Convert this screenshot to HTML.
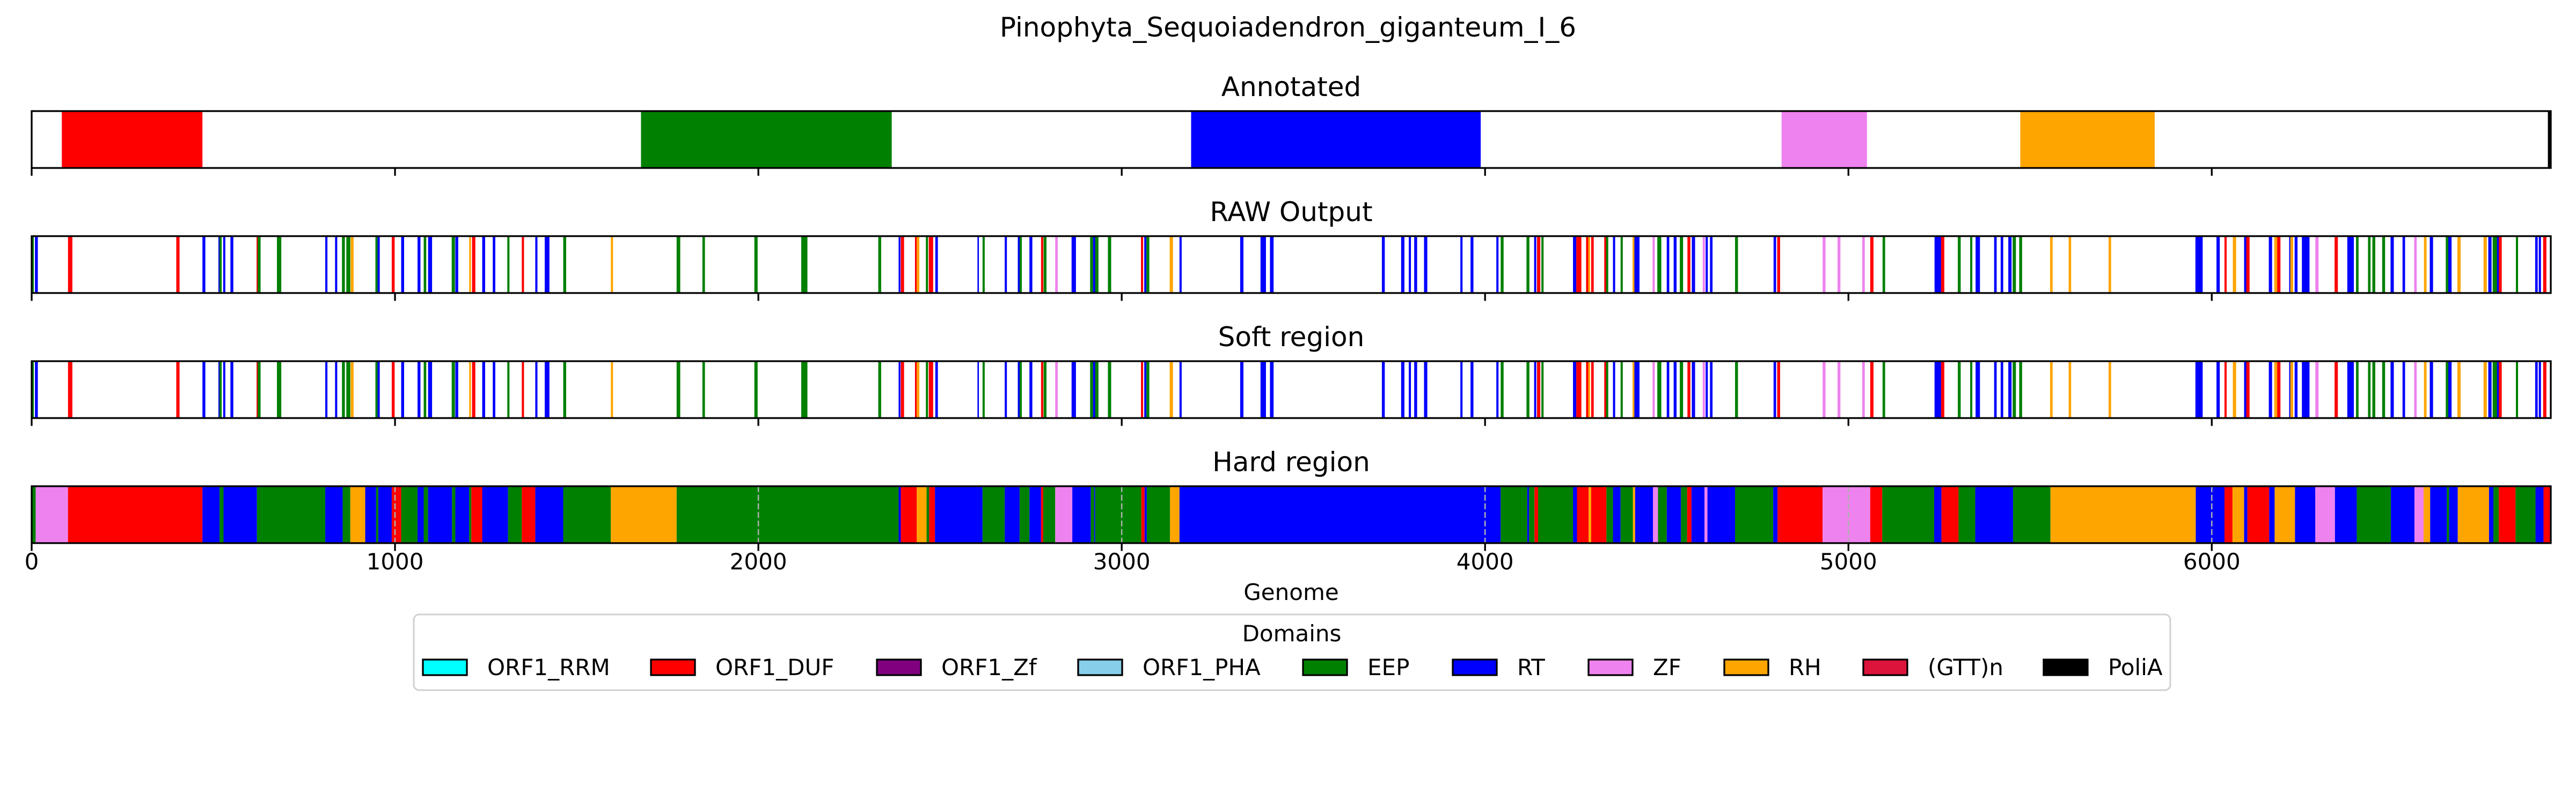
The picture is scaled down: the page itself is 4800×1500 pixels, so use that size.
<!DOCTYPE html>
<html><head><meta charset="utf-8">
<style>
html,body{margin:0;padding:0;background:#fff;}
svg{display:block;font-family:"DejaVu Sans","Liberation Sans",sans-serif;}
</style></head>
<body>
<svg id="chart" width="4800" height="1500" viewBox="0 0 4800 1500" xmlns="http://www.w3.org/2000/svg">
<rect width="4800" height="1500" fill="#fff"/>
<text x="2400" y="68" font-size="50" text-anchor="middle">Pinophyta_Sequoiadendron_giganteum_I_6</text>
<g id="panels"></g>
<text x="2406" y="1118" font-size="42" text-anchor="middle">Genome</text>
<g>
<rect x="771" y="1145" width="3273" height="141" rx="10" fill="#fff" stroke="#d0d0d0" stroke-width="3"/>
<text x="2407" y="1195" font-size="42" text-anchor="middle">Domains</text>
<g id="legend-items"></g>
</g>
</svg>
<script>
const COLORS = {G:'#008000',R:'#ff0000',B:'#0000ff',O:'#ffa500',V:'#ee82ee',K:'#000000'};
const xMax = 6933;
const xTicks = [0,1000,2000,3000,4000,5000,6000];
const panelTitles = ['Annotated','RAW Output','Soft region','Hard region'];

const annotStart = [83,1677,3191,4816,5473,6925];
const annotEnd   = [470,2367,3988,5051,5843,6933];
const annotColor = ['R','G','B','V','O','K'];

const rawStart = [0,9,100,398,470,514,517,527,547,619,622,675,808,835,854,866,878,946,952,991,1017,1062,1079,1091,1096,1156,1166,1204,1212,1240,1269,1309,1349,1386,1412,1463,1594,1775,1846,1989,2118,
2330,2386,2392,2431,2436,2461,2469,2487,2603,2617,2678,2714,2719,2746,2778,2785,2817,2862,2913,2921,2927,2962,3053,3062,3068,3132,3159,3326,3382,3408,3716,3769,3790,3805,3832,3932,3960,4031,4043,4114,4135,4143,4155,4242,4251,4278,4284,4292,4328,4333,4352,4373,4406,4411,4461,4474,4500,4519,4536,4557,4569,4599,4607,4619,
4688,4794,4804,4929,4970,5038,5060,5094,5237,5255,5301,5335,5350,5401,5419,5440,5452,5470,5555,5606,5716,5955,6013,6035,6058,6089,6095,6157,6172,6180,6213,6216,6228,6248,6285,6338,6373,6397,6430,6442,6469,6492,6525,6557,6584,6600,6644,6651,6676,6748,6761,6773,6785,6790,6837,6890,6900,6912];
const rawEnd = [6,17,112,407,478,521,523,533,555,627,630,687,814,841,862,877,886,952,958,999,1025,1070,1086,1098,1102,1165,1174,1209,1221,1248,1276,1315,1355,1392,1425,1471,1600,1785,1853,1998,2135,
2338,2391,2401,2436,2443,2467,2481,2494,2607,2623,2684,2722,2725,2754,2784,2793,2824,2874,2921,2928,2936,2971,3059,3068,3076,3141,3165,3335,3397,3418,3724,3778,3796,3813,3841,3938,3968,4037,4051,4122,4141,4152,4161,4251,4265,4286,4289,4299,4336,4339,4358,4379,4412,4425,4467,4485,4507,4527,4545,4565,4578,4605,4613,4626,
4696,4801,4812,4937,4978,5045,5069,5101,5255,5264,5309,5341,5362,5408,5426,5449,5461,5478,5562,5613,5723,5975,6022,6041,6067,6098,6104,6166,6180,6189,6219,6224,6236,6269,6294,6347,6391,6404,6437,6450,6477,6501,6532,6564,6591,6609,6653,6660,6685,6757,6770,6787,6794,6798,6843,6897,6906,6921];
const rawColor = ['G','B','R','R','B','B','G','B','B','R','G','G','B','B','G','G','O','G','B','R','B','B','G','B','B','G','B','O','R','B','B','G','R','B','B','G','O','G','G','G','G',
'G','B','R','R','O','G','R','B','B','G','B','B','G','B','R','G','V','B','G','B','G','G','R','B','G','O','B','B','B','B','B','B','B','B','B','B','B','B','G','G','B','R','G','B','R','R','O','R','R','G','B','G','O','B','V','G','B','B','G','R','B','V','B','B',
'G','B','R','V','V','V','R','G','B','R','G','G','B','B','B','B','G','G','O','O','O','B','B','R','O','B','R','B','O','R','B','O','B','B','V','R','B','G','G','G','G','B','B','V','O','B','G','B','O','O','B','G','B','R','G','B','B','R'];

const hardStart = [0,11,100,470,517,528,620,808,856,877,918,948,954,991,1017,1062,1079,1091,1157,1166,1204,1210,1240,1311,1349,1386,1463,1594,1775,2386,2392,2436,2463,2470,2486,2617,2678,2719,2746,2778,2784,2817,2864,2915,2924,2927,3054,3063,3069,3133,3159,4043,4116,4121,4136,4146,4242,4253,4285,4292,4334,4352,4373,4407,4413,4462,4476,4500,4539,4556,4568,4604,4612,4688,4793,4805,4929,5060,5093,5236,5256,5303,5349,5453,5556,5956,6035,6057,6089,6098,6158,6173,6229,6285,6339,6399,6493,6558,6583,6601,6647,6653,6677,6763,6775,6790,6836,6891,6913];
const hardColor = ['G','V','R','B','G','B','G','B','G','O','B','G','B','R','G','B','G','B','G','B','G','R','B','G','R','B','G','O','G','B','R','O','G','R','B','G','B','G','B','R','G','V','B','G','B','G','R','B','G','O','B','G','B','G','R','G','B','R','O','R','G','B','G','O','B','V','G','B','G','R','B','V','B','G','B','R','V','R','G','B','R','G','B','G','O','B','R','O','B','R','B','O','B','V','B','G','B','V','O','B','G','B','O','B','G','R','G','B','R'];

const legendLabels = ['ORF1_RRM','ORF1_DUF','ORF1_Zf','ORF1_PHA','EEP','RT','ZF','RH','(GTT)n','PoliA'];
const legendColors = ['#00ffff','#ff0000','#800080','#87ceeb','#008000','#0000ff','#ee82ee','#ffa500','#dc143c','#000000'];

const NS='http://www.w3.org/2000/svg';
const X0=59, X1=4753;
const xs = v => X0 + (v/xMax)*(X1-X0);
const panelTop = [207,440,673,906];
const PH = 106;
function mk(tag, attrs, parent){const e=document.createElementNS(NS,tag);for(const k in attrs)e.setAttribute(k,attrs[k]);parent.appendChild(e);return e;}
const root=document.getElementById('panels');

panelTitles.forEach((t,pi)=>{
  const top=panelTop[pi];
  const g=mk('g',{},root);
  
  
  const tt=mk('text',{x:2406,y:top-28,'font-size':50,'text-anchor':'middle'},g);
  tt.textContent=t;
  
  
  const addBar=(s,e,c,name)=>{
    const r=mk('rect',{x:xs(s),y:top,width:Math.max(1.5,xs(e)-xs(s)),height:PH,fill:COLORS[c]},g);
    
    
  };
  if(pi===0){annotStart.forEach((s,i)=>addBar(s,annotEnd[i],annotColor[i],'annotated-domain'));}
  else if(pi===1||pi===2){rawStart.forEach((s,i)=>addBar(s,rawEnd[i],rawColor[i],'domain-hit'));}
  else {
    hardStart.forEach((s,i)=>addBar(s,i+1<hardStart.length?hardStart[i+1]:xMax,hardColor[i],'hard-segment'));
    xTicks.forEach(v=>{ if(v>0){
      const l=mk('line',{x1:xs(v),x2:xs(v),y1:top,y2:top+PH,stroke:'#b0b0b0','stroke-width':2.5,'stroke-dasharray':'11 5'},g);
      
      
    }});
  }
  const fr=mk('rect',{x:X0,y:top,width:X1-X0,height:PH,fill:'none',stroke:'#000','stroke-width':3.3},g);
  
  
  xTicks.forEach(v=>{
    const tk=mk('line',{x1:xs(v),x2:xs(v),y1:top+PH,y2:top+PH+14.6,stroke:'#000','stroke-width':3.3},g);
    
    
    if(pi===3){
      const lb=mk('text',{x:xs(v),y:1061,'font-size':42,'text-anchor':'middle'},g);
      lb.textContent=String(v);
      
      
    }
  });
});

const lx=[788,1213,1634,2009,2428,2707,2960,3213,3472,3808];
const lg=document.getElementById('legend-items');
legendLabels.forEach((lab,i)=>{
  const g=mk('g',{},lg);
  
  
  const r=mk('rect',{x:lx[i],y:1229,width:82,height:29,fill:legendColors[i],stroke:'#000','stroke-width':3.3},g);
  
  
  const t=mk('text',{x:lx[i]+120,y:1258,'font-size':42},g);
  t.textContent=lab;
  
  
});
</script>
</body></html>
